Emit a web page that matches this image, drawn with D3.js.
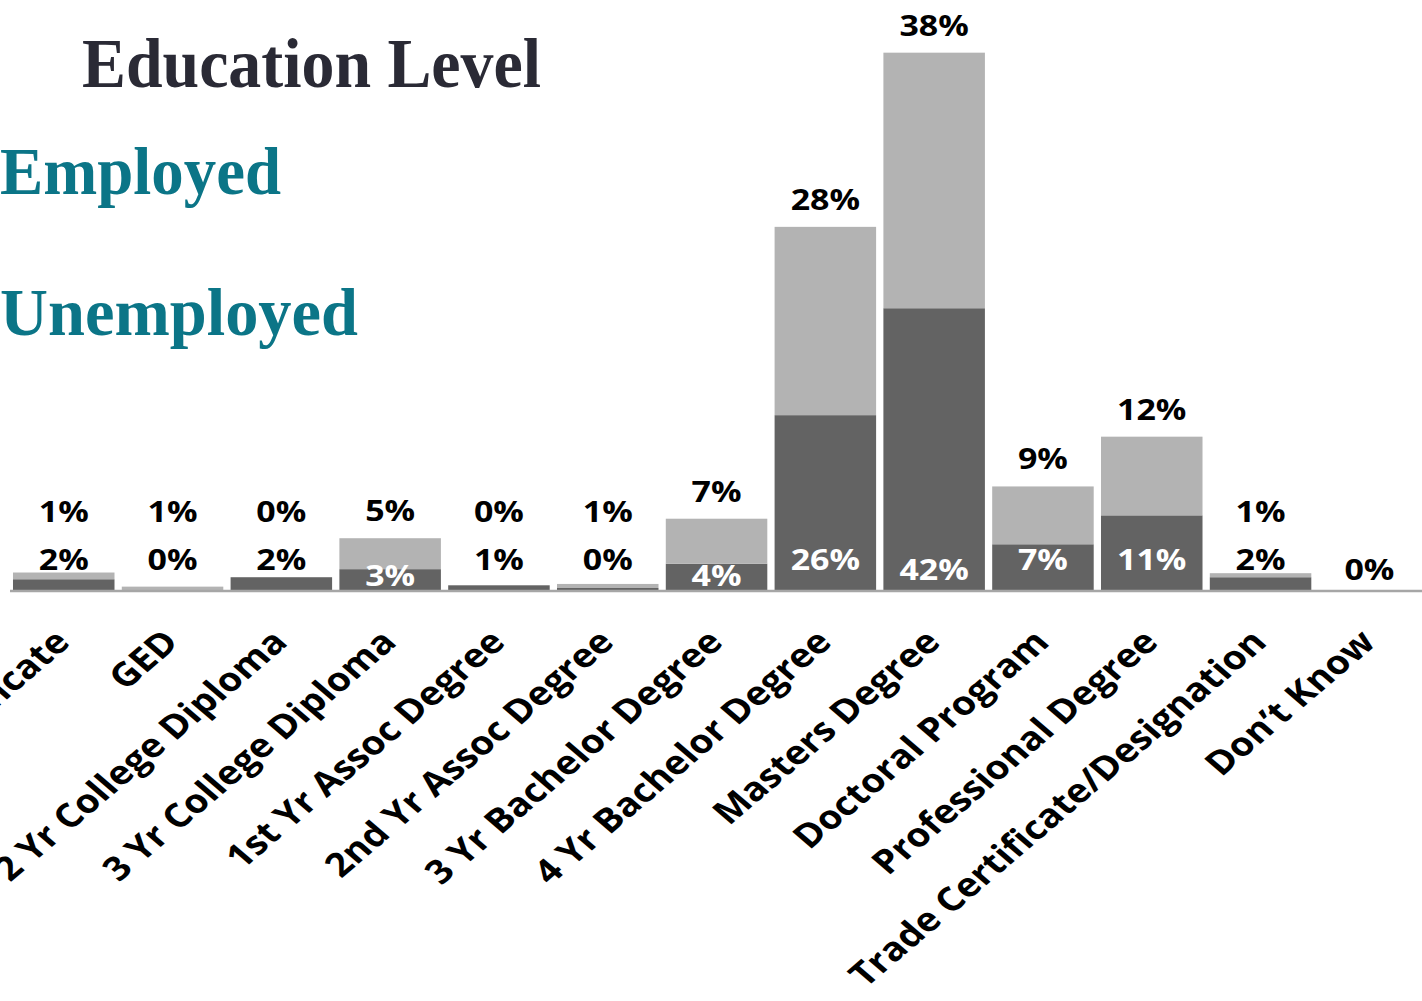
<!DOCTYPE html>
<html>
<head>
<meta charset="utf-8">
<script src="https://cdn.jsdelivr.net/npm/d3@7"></script>
<style>
html,body{margin:0;padding:0;background:#fff;overflow:hidden;}
svg{display:block;}
</style>
</head>
<body>
<svg id="chart" width="1422" height="1001"></svg>
<script>
const categories = [
  "High School Certificate", "GED", "2 Yr College Diploma", "3 Yr College Diploma",
  "1st Yr Assoc Degree", "2nd Yr Assoc Degree", "3 Yr Bachelor Degree", "4 Yr Bachelor Degree",
  "Masters Degree", "Doctoral Program", "Professional Degree", "Trade Certificate/Designation", "Don\u2019t Know"
];
const employed   = [1.6, 0, 1.9, 3.1, 0.7, 0.3, 3.9, 26, 41.9, 6.8, 11.1, 1.9, 0];
const unemployed = [1.0, 0.5, 0, 4.6, 0, 0.6, 6.7, 28, 38, 8.6, 11.7, 0.6, null];
const seriesNames = ["Employed", "Unemployed"];
const titleText = "Education Level";

const W = 1422, H = 1001;
const SX = 1.17; // horizontal stretch of the original picture
const svg = d3.select("#chart");

const x = d3.scaleBand().domain(categories).range([5.7, 1427.4]).paddingInner(0.067).paddingOuter(0.067);
const y = d3.scaleLinear().domain([0, 80]).range([590, 52]);

const rows = categories.map((c, i) => ({c, e: employed[i], u: unemployed[i]}));
const fmt = v => Math.round(v) + "%";

// bars
const g = svg.append("g");
g.selectAll("rect.emp").data(rows).join("rect")
  .attr("x", d => x(d.c)).attr("width", x.bandwidth())
  .attr("y", d => y(d.e)).attr("height", d => y(0) - y(d.e))
  .attr("fill", "#636363");
g.selectAll("rect.unemp").data(rows.filter(d => d.u != null)).join("rect")
  .attr("x", d => x(d.c)).attr("width", x.bandwidth())
  .attr("y", d => y(d.e + d.u)).attr("height", d => y(d.e) - y(d.e + d.u))
  .attr("fill", "#b3b3b3");

// axis
const ax = svg.append("g").attr("transform", `translate(0,${y(0)})`)
  .call(d3.axisBottom(x).tickSize(0).tickSizeOuter(0));
ax.select(".domain").attr("stroke", "#a6a6a6").attr("stroke-width", 2.5)
  .attr("d", `M10,1H1422`);
ax.selectAll(".tick text")
  .attr("font-family", "'Open Sans', sans-serif")
  .attr("font-weight", 700)
  .attr("font-size", 33)
  .attr("fill", "#000")
  .attr("text-anchor", "end")
  .attr("dy", 0).attr("y", 0)
  .attr("transform", `translate(8,54) scale(${SX},1) rotate(-45)`);

// value labels
const labelFont = "'Open Sans', sans-serif";
function placeLabel(sel, fx, fy) {
  sel.attr("transform", d => `translate(${fx(d)},${fy(d)}) scale(${SX},1)`)
    .attr("text-anchor", "middle")
    .attr("font-family", labelFont).attr("font-weight", 700).attr("font-size", 29);
}
const cx = d => x(d.c) + x.bandwidth() / 2;

svg.append("g").selectAll("text").data(rows).join("text")
  .call(placeLabel, cx, d => {
    const white = Math.round(d.e) >= 3;
    if (d.u == null) return 580;
    if (white && (y(0) - y(d.e)) < 30) return 586;
    if (d.e > 40) return 580;
    return 570;
  })
  .attr("fill", d => Math.round(d.e) >= 3 ? "#fff" : "#000")
  .text(d => fmt(d.e));

svg.append("g").selectAll("text").data(rows.filter(d => d.u != null)).join("text")
  .call(placeLabel, cx, d => Math.min(y(d.e + d.u) - 17, 522))
  .attr("fill", "#000")
  .text(d => fmt(d.u));

// title
svg.append("text").attr("x", 82).attr("y", 87)
  .attr("font-family", "'Liberation Serif', serif").attr("font-weight", 700)
  .attr("font-size", 70).attr("fill", "#2a2a35")
  .attr("textLength", 459).attr("lengthAdjust", "spacingAndGlyphs")
  .text(titleText);

// legend (cropped at left edge in reference)
const legendY = [194, 335];
const legendW = [281, 358];
svg.append("g").selectAll("text").data(seriesNames).join("text")
  .attr("x", 0).attr("y", (d, i) => legendY[i])
  .attr("font-family", "'Liberation Serif', serif").attr("font-weight", 700)
  .attr("font-size", 68).attr("fill", "#0b7587")
  .attr("textLength", (d, i) => legendW[i]).attr("lengthAdjust", "spacingAndGlyphs")
  .text(d => d);
</script>
</body>
</html>
